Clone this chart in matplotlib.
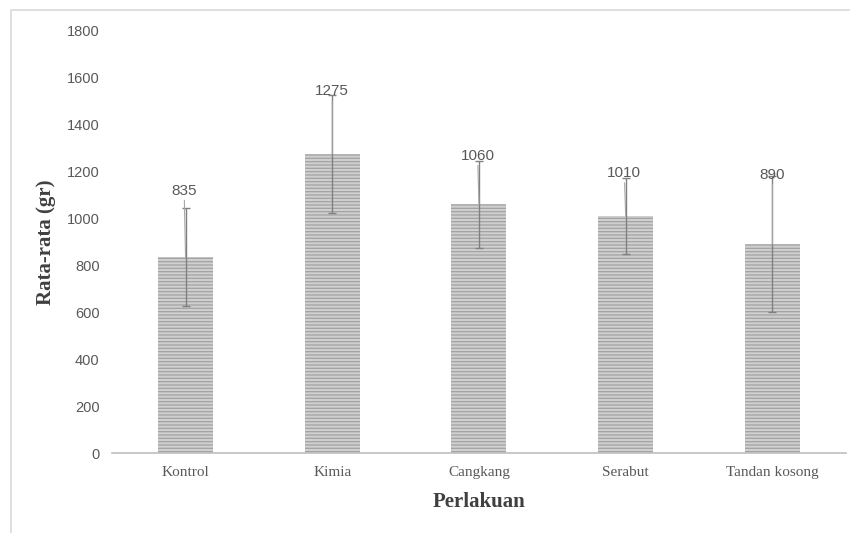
import numpy as np
import matplotlib
matplotlib.use("Agg")
import matplotlib.pyplot as plt
from matplotlib.patches import Rectangle

# Data
perlakuan = ["Kontrol", "Kimia", "Cangkang", "Serabut", "Tandan kosong"]
rata_rata = [835, 1275, 1060, 1010, 890]
galat = [208, 252, 185, 163, 290]
# label placement (points, relative to bar top) - style only
label_dx = [-1, 0, -1, -1, 0]
label_dy = [43, 40, 30, 26, 45]

fig = plt.figure(figsize=(8.5, 5.33), dpi=100)
ax = fig.add_axes([0.132, 0.150, 0.863, 0.792])

x = np.arange(len(perlakuan))
plt.rcParams['hatch.color'] = '#a3a3a3'
plt.rcParams['hatch.linewidth'] = 0.9
bars = ax.bar(x, rata_rata, width=0.375, color='#cfcfcf', edgecolor='#a3a3a3',
              linewidth=0, hatch='-----', zorder=2)

ax.errorbar(x, rata_rata, yerr=galat, fmt='none', ecolor='#808080',
            elinewidth=1.0, capsize=3, capthick=1.0, zorder=3)

# data labels with thin leader lines
for xi, v, dx, dy in zip(x, rata_rata, label_dx, label_dy):
    ax.annotate(str(v), xy=(xi, v), xytext=(dx, dy), textcoords='offset points',
                ha='center', va='bottom', fontsize=11, color='#595959',
                family='Liberation Sans',
                arrowprops=dict(arrowstyle='-', color='#a6a6a6', lw=0.8,
                                shrinkA=0, shrinkB=0))

ax.set_xlim(-0.5, len(perlakuan) - 0.5)
ax.set_ylim(0, 1800)
ax.set_yticks(np.arange(0, 1801, 200))
ax.set_xticks(x)
ax.set_xticklabels(perlakuan, family='Liberation Serif', fontsize=11, color='#595959')
for lab in ax.get_yticklabels():
    lab.set_family('Liberation Sans')
    lab.set_fontsize(10.5)
    lab.set_color('#595959')
ax.tick_params(axis='both', length=0, pad=9)

for s in ['top', 'right', 'left']:
    ax.spines[s].set_visible(False)
ax.spines['bottom'].set_color('#bfbfbf')
ax.spines['bottom'].set_linewidth(1.2)

ax.set_xlabel('Perlakuan', family='Liberation Serif', fontweight='bold',
              fontsize=15, color='#404040', labelpad=10)
ax.set_ylabel('Rata-rata (gr)', family='Liberation Serif', fontweight='bold',
              fontsize=15, color='#404040', labelpad=8)

# outer chart frame (only top and left edges visible)
fig.add_artist(Rectangle((11 / 850, -0.1), 1.2, 1 - 10 / 533 + 0.1,
                         transform=fig.transFigure, fill=False,
                         edgecolor='#d9d9d9', linewidth=1.2))

fig.savefig('out.png', dpi=100)
